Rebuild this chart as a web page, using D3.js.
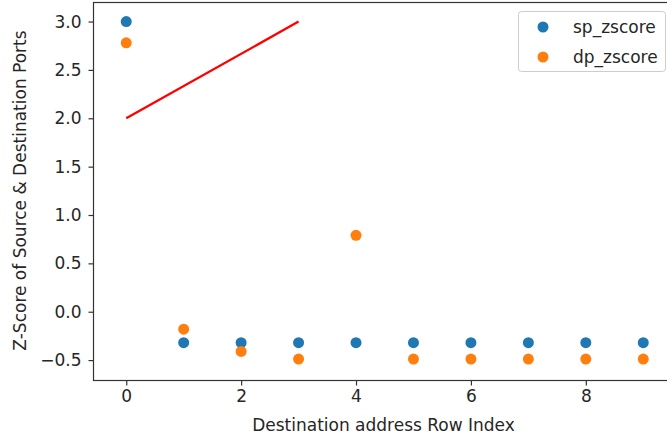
<!DOCTYPE html>
<html>
<head>
<meta charset="utf-8">
<script src="https://cdn.jsdelivr.net/npm/d3@7"></script>
<style>
body { margin: 0; background: #fff; }
text { font-family: "DejaVu Sans", sans-serif; fill: #262626; }
</style>
</head>
<body>
<svg width="667" height="439"></svg>
<script>
// data
var rowIndex = [0, 1, 2, 3, 4, 5, 6, 7, 8, 9];
var spZscore = [3.0, -0.32, -0.32, -0.32, -0.32, -0.32, -0.32, -0.32, -0.32, -0.32];
var dpZscore = [2.78, -0.18, -0.41, -0.49, 0.79, -0.49, -0.49, -0.49, -0.49, -0.49];
var lineX = [0, 3];
var lineY = [2, 3];
var xTicks = [0, 2, 4, 6, 8];
var yTicks = [-0.5, 0.0, 0.5, 1.0, 1.5, 2.0, 2.5, 3.0];
var seriesNames = ["sp_zscore", "dp_zscore"];
var seriesColors = ["#1f77b4", "#ff7f0e"];

var svg = d3.select("svg"),
	plotL = 93.5, plotT = 2.5, plotR = 676, plotB = 380.5,
	fs = 17;

var x = d3.scaleLinear().domain([-0.57, 9.57]).range([plotL, plotR]);
var y = d3.scaleLinear().domain([-0.711, 3.197]).range([plotB, plotT]);

var g = svg.append("g");

// red line
g.append("path")
	.datum(lineX.map(function(d, i) { return [d, lineY[i]]; }))
	.attr("fill", "none")
	.attr("stroke", "#ff0000")
	.attr("stroke-width", 2.3)
	.attr("d", d3.line().x(function(d) { return x(d[0]); }).y(function(d) { return y(d[1]); }));

// scatter points
[spZscore, dpZscore].forEach(function(vals, s) {
	g.selectAll(".pt" + s)
		.data(vals)
		.enter().append("circle")
		.attr("cx", function(d, i) { return x(rowIndex[i]); })
		.attr("cy", function(d) { return y(d); })
		.attr("r", 5.5)
		.attr("fill", seriesColors[s]);
});

// axes
var xAxis = d3.axisBottom(x).tickValues(xTicks).tickFormat(d3.format("d")).tickSizeOuter(0).tickSize(5).tickPadding(4);
var yAxis = d3.axisLeft(y).tickValues(yTicks).tickFormat(function(d) { return d3.format(".1f")(d).replace("-", "\u2212"); }).tickSizeOuter(0).tickSize(5).tickPadding(7);

var gx = svg.append("g").attr("transform", "translate(0," + plotB + ")").call(xAxis);
var gy = svg.append("g").attr("transform", "translate(" + plotL + ",0)").call(yAxis);
[gx, gy].forEach(function(a) {
	a.select(".domain").remove();
	a.selectAll("line").attr("stroke", "#333").attr("stroke-width", 1.2);
	a.selectAll("text").attr("font-size", fs).attr("fill", "#262626").style("font-family", "DejaVu Sans");
});

// spines
svg.append("rect")
	.attr("x", plotL).attr("y", plotT)
	.attr("width", plotR - plotL).attr("height", plotB - plotT)
	.attr("fill", "none").attr("stroke", "#333").attr("stroke-width", 1.2);

// axis labels
svg.append("text")
	.attr("x", 383.5).attr("y", 431)
	.attr("text-anchor", "middle").attr("font-size", fs)
	.text("Destination address Row Index");
svg.append("text")
	.attr("transform", "translate(26,190.5) rotate(-90)")
	.attr("text-anchor", "middle").attr("font-size", fs)
	.text("Z-Score of Source & Destination Ports");

// legend
var leg = svg.append("g");
leg.append("rect")
	.attr("x", 518.5).attr("y", 11.5).attr("width", 147).attr("height", 60)
	.attr("rx", 3).attr("fill", "#fff").attr("fill-opacity", 0.8)
	.attr("stroke", "#ccc");
seriesNames.forEach(function(name, i) {
	leg.append("circle").attr("cx", 543).attr("cy", 27 + i * 30).attr("r", 5.5).attr("fill", seriesColors[i]);
	leg.append("text").attr("x", 573).attr("y", 27 + i * 30).attr("dy", "0.35em")
		.attr("font-size", fs).text(name);
});
</script>
</body>
</html>
